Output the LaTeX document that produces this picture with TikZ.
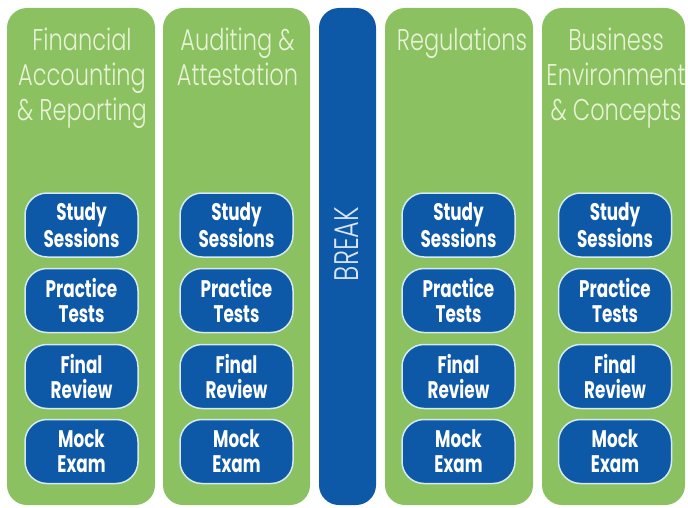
\documentclass[tikz,border=0pt]{standalone}
\usepackage{fontspec}
\newfontfamily\headfont{Poppins Light}[FakeStretch=0.75]
\newfontfamily\pillfont{Poppins}[FakeStretch=0.7]

\definecolor{colgreen}{RGB}{139,193,96}
\definecolor{pillblue}{RGB}{14,88,168}
\definecolor{headtext}{RGB}{232,243,214}
\definecolor{pillline}{RGB}{214,232,240}
\definecolor{breaktext}{RGB}{218,230,246}

\begin{document}
\begin{tikzpicture}[x=1pt,y=-1pt]
      \tikzstyle{every node}+=[inner sep=0pt]
      \tikzstyle{column}=[fill=colgreen, rounded corners=20pt]
      \tikzstyle{pill}=[draw=pillline, line width=1.5pt, fill=pillblue, rounded corners=22pt,
        minimum width=113pt, minimum height=64pt, text=white, align=center,
        font=\pillfont\bfseries\fontsize{24}{25}\selectfont]
      \tikzstyle{head}=[text=headtext, align=center, anchor=north,
        font=\headfont\fontsize{30}{35}\selectfont]
      \fill [white] (0,0) rectangle (688,508);
      \useasboundingbox (0,0) rectangle (688,508);
      % columns
      \fill [column] (7,8) rectangle (155,505);
      \fill [column] (163,8) rectangle (310,505);
      \fill [pillblue, rounded corners=20pt] (319,8) rectangle (376,505);
      \fill [column] (385,8) rectangle (533,505);
      \fill [column] (542,8) rectangle (685,505);
      % headings
      \node [head] (far) at (82,28) {Financial\\Accounting\\\& Reporting};
      \node [head] (aud) at (237.5,28) {Auditing \&\\Attestation};
      \node [head] (reg) at (462,28) {Regulations};
      \node [head] (bec) at (616,28) {Business\\Environment\\\& Concepts};
      \node [text=breaktext, rotate=90, font=\headfont\fontsize{34}{36}\selectfont] (brk) at (347,244) {BREAK};
      % FAR
      \node [pill] (far1) at (81.5,225) {Study\\Sessions};
      \node [pill] (far2) at (81.5,300.5) {Practice\\Tests};
      \node [pill] (far3) at (81.5,376.5) {Final\\Review};
      \node [pill] (far4) at (81.5,451.5) {Mock\\Exam};
      % AUD
      \node [pill] (aud1) at (236.5,225) {Study\\Sessions};
      \node [pill] (aud2) at (236.5,300.5) {Practice\\Tests};
      \node [pill] (aud3) at (236.5,376.5) {Final\\Review};
      \node [pill] (aud4) at (236.5,451.5) {Mock\\Exam};
      % REG
      \node [pill] (reg1) at (458.5,225) {Study\\Sessions};
      \node [pill] (reg2) at (458.5,300.5) {Practice\\Tests};
      \node [pill] (reg3) at (458.5,376.5) {Final\\Review};
      \node [pill] (reg4) at (458.5,451.5) {Mock\\Exam};
      % BEC
      \node [pill] (bec1) at (615,225) {Study\\Sessions};
      \node [pill] (bec2) at (615,300.5) {Practice\\Tests};
      \node [pill] (bec3) at (615,376.5) {Final\\Review};
      \node [pill] (bec4) at (615,451.5) {Mock\\Exam};
\end{tikzpicture}
\end{document}
